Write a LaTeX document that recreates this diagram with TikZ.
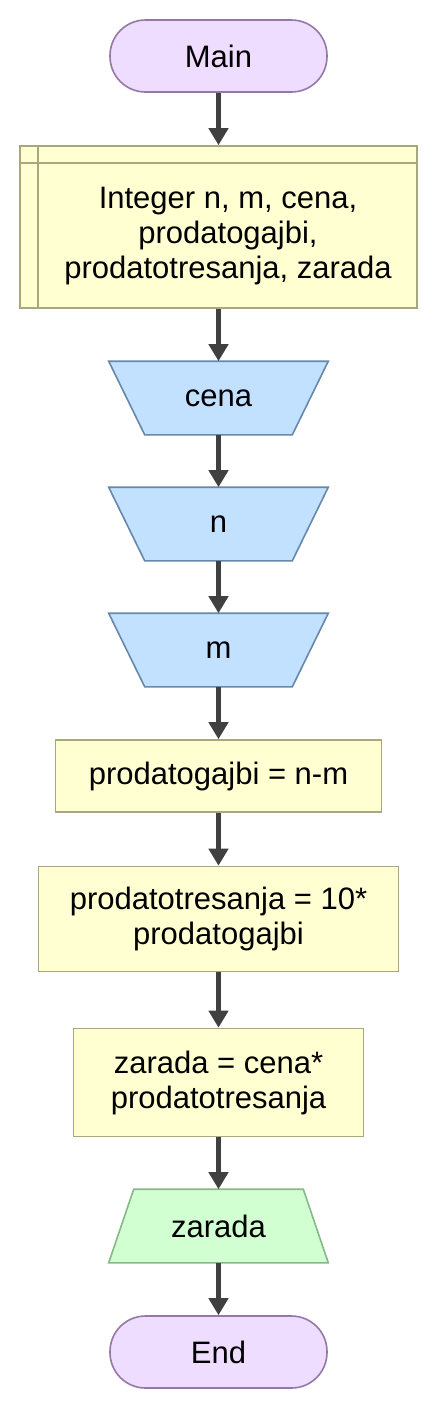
\documentclass[tikz,border=0pt]{standalone}
\usepackage{fontspec}
\setmainfont{Liberation Sans}
\usetikzlibrary{arrows.meta,backgrounds}
\definecolor{termfill}{HTML}{EEDDFF}
\definecolor{termdraw}{HTML}{9577A8}
\definecolor{procfill}{HTML}{FFFFD2}
\definecolor{procdraw}{HTML}{A8A880}
\definecolor{infill}{HTML}{C2E0FF}
\definecolor{indraw}{HTML}{6688AA}
\definecolor{outfill}{HTML}{D2FFD2}
\definecolor{outdraw}{HTML}{88B888}
\definecolor{arrowcol}{HTML}{404040}
\tikzset{
  base/.style={line width=1.6pt, align=center, inner sep=0pt, font=\fontsize{31}{35}\selectfont, text=black},
  term/.style={base, rectangle, rounded corners=35.5pt, fill=termfill, draw=termdraw, minimum width=217pt, minimum height=72pt},
  proc/.style={base, rectangle, fill=procfill, draw=procdraw},
  iobox/.style={base, rectangle, minimum width=218pt, minimum height=72pt},
  inshape/.style={fill=infill, draw=indraw, line width=1.6pt},
  outshape/.style={fill=outfill, draw=outdraw, line width=1.6pt},
  txt/.style={align=center, inner sep=0pt, font=\fontsize{31}{35}\selectfont, text=black},
  flow/.style={draw=arrowcol, line width=5pt, -{Triangle[width=19pt,length=17pt]}}
}
\begin{document}
\begin{tikzpicture}[x=1pt,y=-1pt]
\useasboundingbox (0,0) rectangle (437,1409);
\node[term] (main) at (218.5,56) {Main};
\node[proc, minimum width=397pt, minimum height=162pt] (decl) at (218.5,227) {};
\draw[procdraw, line width=1.6pt] ([xshift=19pt]decl.north west) -- ([xshift=19pt]decl.south west);
\draw[procdraw, line width=1.6pt] ([yshift=-18pt]decl.north west) -- ([yshift=-18pt]decl.north east);
\node[txt] (decltext) at (228,236) {Integer n, m, cena,\\prodatogajbi,\\prodatotresanja, zarada};
\node[iobox] (cena) at (218.5,398) {cena};
\node[iobox] (n) at (218.5,524) {n};
\node[iobox] (m) at (218.5,650) {m};
\node[proc, minimum width=326pt, minimum height=72pt] (pg) at (218.5,776) {prodatogajbi = n-m};
\node[proc, minimum width=360pt, minimum height=105pt] (pt) at (218.5,919) {prodatotresanja = 10*\\prodatogajbi};
\node[proc, minimum width=290pt, minimum height=108pt] (zr) at (218.5,1082.5) {zarada = cena*\\prodatotresanja};
\node[iobox] (out) at (218.5,1226) {zarada};
\node[term] (end) at (218.5,1352) {End};
\begin{scope}[on background layer]
  \foreach \k in {cena,n,m}{
    \filldraw[inshape] (\k.north west) -- (\k.north east) -- ([xshift=-36pt]\k.south east) -- ([xshift=36pt]\k.south west) -- cycle;
  }
  \filldraw[outshape] ([xshift=25pt]out.north west) -- ([xshift=-25pt]out.north east) -- (out.south east) -- (out.south west) -- cycle;
\end{scope}
\draw[flow] (main.south) -- (decl.north);
\draw[flow] (decl.south) -- (cena.north);
\draw[flow] (cena.south) -- (n.north);
\draw[flow] (n.south) -- (m.north);
\draw[flow] (m.south) -- (pg.north);
\draw[flow] (pg.south) -- (pt.north);
\draw[flow] (pt.south) -- (zr.north);
\draw[flow] (zr.south) -- (out.north);
\draw[flow] (out.south) -- (end.north);
\end{tikzpicture}
\end{document}
